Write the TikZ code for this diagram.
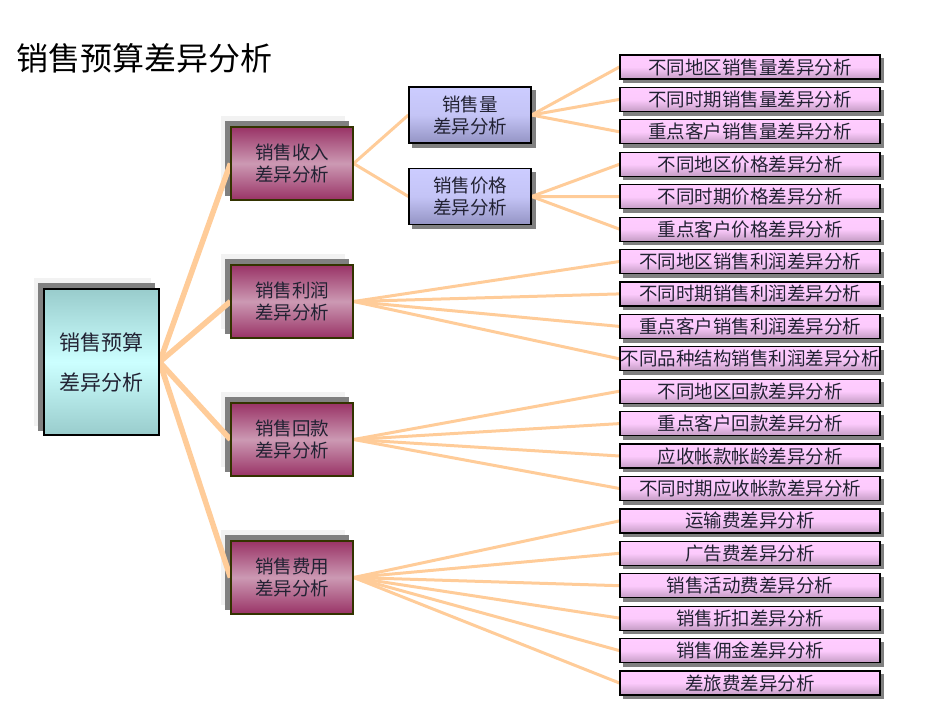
\documentclass[tikz,border=0pt]{standalone}
\usepackage{fontspec}
\setmainfont{Noto Sans CJK SC}
\usetikzlibrary{backgrounds}
\definecolor{conn}{HTML}{FFCC99}
\definecolor{shd}{HTML}{808080}
\definecolor{halo}{HTML}{F2F2F2}
\definecolor{leafT}{HTML}{FFCCFF}
\definecolor{leafM}{HTML}{FCCAFC}
\definecolor{leafB}{HTML}{C49CC4}
\definecolor{midT}{HTML}{CCCCFF}
\definecolor{midM}{HTML}{C4C4F6}
\definecolor{midB}{HTML}{9494C4}
\definecolor{topE}{HTML}{993366}
\definecolor{topM}{HTML}{CC99B3}
\definecolor{rootE}{HTML}{99CCCC}
\definecolor{rootM}{HTML}{CCFFFF}
\definecolor{olive}{HTML}{333300}
\definecolor{txt}{HTML}{222233}
\begin{document}
\begin{tikzpicture}[x=1pt,y=-1pt,
  leafbox/.style={draw=black, line width=1.2pt, top color=leafT, bottom color=leafB, middle color=leafM,
    minimum width=260pt, minimum height=24pt, inner sep=0pt, text=txt, font=\fontsize{18.5}{20}\selectfont},
  midbox/.style={draw=black, line width=1.2pt, top color=midT, bottom color=midB, middle color=midM,
    minimum width=122pt, minimum height=56pt, inner sep=0pt, align=center, text=txt, font=\fontsize{18.5}{22}\selectfont},
  topbox/.style={draw=olive, line width=1.2pt, top color=topE, bottom color=topE, middle color=topM,
    minimum width=122pt, minimum height=73pt, inner sep=0pt, align=center, text=txt, font=\fontsize{18.5}{22}\selectfont},
  rootbox/.style={draw=black, line width=1.2pt, top color=rootE, bottom color=rootE, middle color=rootM,
    minimum width=115pt, minimum height=146pt, inner sep=0pt, align=center, text=txt, font=\fontsize{21}{40}\selectfont},
  thickconn/.style={draw=conn, line width=5.5pt},
  thinconn/.style={draw=conn, line width=3pt},
]
\useasboundingbox (0,0) rectangle (941,725);

\node[anchor=west, font=\fontsize{32}{34}\selectfont, text=black] (title) at (13,58) {销售预算差异分析};

\node[rootbox] (root) at (101.5,362) {销售预算\\差异分析};

\node[topbox] (inc) at (292,163.5) {销售收入\\差异分析};
\node[topbox] (pro) at (292,301.5) {销售利润\\差异分析};
\node[topbox] (ret) at (292,439.5) {销售回款\\差异分析};
\node[topbox] (fee) at (292,577.5) {销售费用\\差异分析};

\node[midbox] (vol) at (470,115) {销售量\\差异分析};
\node[midbox] (pri) at (470,196.5) {销售价格\\差异分析};

\node[leafbox] (l1) at (750,67) {不同地区销售量差异分析};
\node[leafbox] (l2) at (750,99.4) {不同时期销售量差异分析};
\node[leafbox] (l3) at (750,131.8) {重点客户销售量差异分析};
\node[leafbox] (l4) at (750,164.3) {不同地区价格差异分析};
\node[leafbox] (l5) at (750,196.7) {不同时期价格差异分析};
\node[leafbox] (l6) at (750,229.1) {重点客户价格差异分析};
\node[leafbox] (l7) at (750,261.5) {不同地区销售利润差异分析};
\node[leafbox] (l8) at (750,293.9) {不同时期销售利润差异分析};
\node[leafbox] (l9) at (750,326.4) {重点客户销售利润差异分析};
\node[leafbox] (l10) at (750,358.8) {不同品种结构销售利润差异分析};
\node[leafbox] (l11) at (750,391.2) {不同地区回款差异分析};
\node[leafbox] (l12) at (750,423.6) {重点客户回款差异分析};
\node[leafbox] (l13) at (750,456) {应收帐款帐龄差异分析};
\node[leafbox] (l14) at (750,488.5) {不同时期应收帐款差异分析};
\node[leafbox] (l15) at (750,520.9) {运输费差异分析};
\node[leafbox] (l16) at (750,553.3) {广告费差异分析};
\node[leafbox] (l17) at (750,585.7) {销售活动费差异分析};
\node[leafbox] (l18) at (750,618.1) {销售折扣差异分析};
\node[leafbox] (l19) at (750,650.6) {销售佣金差异分析};
\node[leafbox] (l20) at (750,683) {差旅费差异分析};

\begin{scope}[on background layer]
  % shadows
  \foreach \n in {root,inc,pro,ret,fee}
    \fill[halo] ([shift={(-9,-10)}]\n.north west) rectangle ([shift={(-9,-10)}]\n.south east);
  \foreach \n in {root,inc,pro,ret,fee}
    \fill[shd] ([shift={(-5,-5)}]\n.north west) rectangle ([shift={(-5,-5)}]\n.south east);
  \foreach \n in {vol,pri}
    \fill[shd] ([shift={(4,4)}]\n.north west) rectangle ([shift={(4,4)}]\n.south east);
  \foreach \n in {l1,l2,l3,l4,l5,l6,l7,l8,l9,l10,l11,l12,l13,l14,l15,l16,l17,l18,l19,l20}
    \fill[shd] ([shift={(3.5,3.5)}]\n.north west) rectangle ([shift={(3.5,3.5)}]\n.south east);
  % connectors
  \foreach \n in {inc,pro,ret,fee}
    \draw[thickconn] (root.east) -- (\n.west);
  \foreach \n in {vol,pri}
    \draw[thinconn] (inc.east) -- (\n.west);
  \foreach \n in {l1,l2,l3}
    \draw[thinconn] (vol.east) -- (\n.west);
  \foreach \n in {l4,l5,l6}
    \draw[thinconn] (pri.east) -- (\n.west);
  \foreach \n in {l7,l8,l9,l10}
    \draw[thinconn] (pro.east) -- (\n.west);
  \foreach \n in {l11,l12,l13,l14}
    \draw[thinconn] (ret.east) -- (\n.west);
  \foreach \n in {l15,l16,l17,l18,l19,l20}
    \draw[thinconn] (fee.east) -- (\n.west);
\end{scope}
\end{tikzpicture}
\end{document}
